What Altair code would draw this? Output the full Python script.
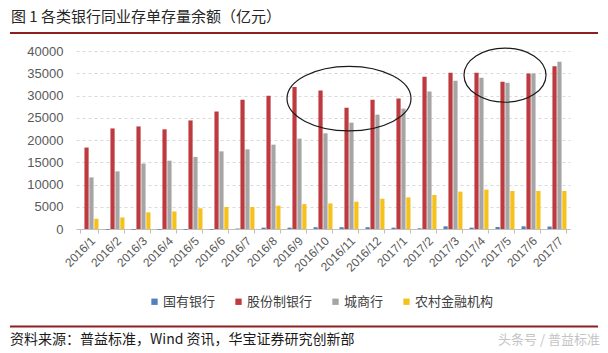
import altair as alt
import pandas as pd

months = ["2016/1", "2016/2", "2016/3", "2016/4", "2016/5", "2016/6", "2016/7",
          "2016/8", "2016/9", "2016/10", "2016/11", "2016/12", "2017/1", "2017/2",
          "2017/3", "2017/4", "2017/5", "2017/6", "2017/7"]
banks = ["国有银行", "股份制银行", "城商行", "农村金融机构"]
colors = ["#4F81BD", "#BE3A3E", "#A5A5A5", "#F5C21B"]

state_owned = [0, -150, -150, -150, -150, -150, 100, 300, 300, 400, 400, 400,
               300, 150, 600, 300, 450, 600, 550]
joint_stock = [18300, 22600, 23050, 22400, 24400, 26400, 29050, 29950, 31900,
               31100, 27250, 29050, 29300, 34200, 35100, 35100, 33100, 34950, 36550]
city_comm = [11600, 12950, 14700, 15350, 16200, 17450, 17900, 18950, 20300,
             21500, 23900, 25700, 27050, 30900, 33300, 34000, 32850, 34950, 37600]
rural = [2300, 2600, 3750, 3950, 4650, 4950, 4950, 5250, 5600, 5750, 6150,
         6800, 7100, 7650, 8400, 8850, 8550, 8550, 8550]
y_ticks = [0, 5000, 10000, 15000, 20000, 25000, 30000, 35000, 40000]

# annotation ellipses (category, value)
ell_month = ["2016/11", "2017/5"]
ell_value = [29300, 34560]

rows = []
for series, vals in zip(banks, [state_owned, joint_stock, city_comm, rural]):
    for m, v in zip(months, vals):
        rows.append({"month": m, "bank": series, "value": v})
df = pd.DataFrame(rows)

FONT = "Liberation Sans, Noto Sans CJK SC"
CJK = "Noto Sans CJK SC"

x_enc = alt.X("month:N", sort=months, title=None,
              scale=alt.Scale(paddingInner=0.27, paddingOuter=0.135),
              axis=alt.Axis(labelAngle=-45, labelFontSize=12, labelColor="#595959",
                            labelFont=FONT, domainColor="#BFBFBF", tickColor="#BFBFBF",
                            tickSize=4, tickBand="extent", labelPadding=2, grid=False))
y_enc = alt.Y("value:Q", title=None,
              scale=alt.Scale(domain=[0, 40000], nice=False),
              axis=alt.Axis(values=y_ticks, format="d",
                            labelOverlap=False, labelFontSize=13,
                            labelColor="#595959", labelFont=FONT, domain=False, ticks=False,
                            labelPadding=13, gridColor="#D9D9D9", gridDash=[3, 3]))

bars = alt.Chart(df).mark_bar().encode(
    x=x_enc,
    xOffset=alt.XOffset("bank:N", sort=banks, scale=alt.Scale(paddingInner=0.15)),
    y=y_enc,
    color=alt.Color("bank:N", sort=banks,
                    scale=alt.Scale(domain=banks, range=colors),
                    legend=alt.Legend(title=None, orient="none", legendX=72, legendY=244,
                                      direction="horizontal", symbolType="square",
                                      symbolSize=40, symbolStrokeWidth=0,
                                      labelFont=CJK, labelFontSize=13,
                                      labelColor="#404040", columnPadding=16,
                                      labelOffset=2)),
)

ell_df = pd.DataFrame({"month": ell_month, "value": ell_value})
ell1 = alt.Chart(ell_df.iloc[[0]]).mark_point(
    shape="M -1 0 A 1 0.52 0 1 0 1 0 A 1 0.52 0 1 0 -1 0",
    size=124 * 124, filled=False, stroke="#1A1A1A", strokeWidth=1.2, opacity=1
).encode(x=x_enc, y=y_enc)
ell2 = alt.Chart(ell_df.iloc[[1]]).mark_point(
    shape="M -1 0 A 1 0.66 0 1 0 1 0 A 1 0.66 0 1 0 -1 0",
    size=82 * 82, filled=False, stroke="#1A1A1A", strokeWidth=1.2, opacity=1
).encode(x=x_enc, y=y_enc)

anno = pd.DataFrame({"a": [0]})
title_txt = alt.Chart(anno).mark_text(
    text="图 1  各类银行同业存单存量余额（亿元）", align="left", baseline="middle",
    font=CJK, fontSize=15, color="#262626"
).encode(x=alt.value(-65), y=alt.value(-34))
top_line = alt.Chart(anno).mark_rule(color="#8E1F1F", strokeWidth=2).encode(
    x=alt.value(-66), x2=alt.value(522), y=alt.value(-18))
bot_line = alt.Chart(anno).mark_rule(color="#8E1F1F", strokeWidth=2).encode(
    x=alt.value(-66), x2=alt.value(522), y=alt.value(275.5))
source_txt = alt.Chart(anno).mark_text(
    text="资料来源：普益标准，Wind 资讯，华宝证券研究创新部", align="left",
    baseline="middle", font=CJK, fontSize=14, color="#1A1A1A"
).encode(x=alt.value(-66), y=alt.value(289))
mark_txt = alt.Chart(anno).mark_text(
    text="头条号 / 普益标准", align="right", baseline="middle",
    font=CJK, fontSize=13, color="#C4C4C4"
).encode(x=alt.value(524), y=alt.value(289))

chart = alt.layer(bars, ell1, ell2, title_txt, top_line, bot_line, source_txt, mark_txt).properties(
    width=494, height=178,
    autosize=alt.AutoSizeParams(type="none"),
    padding={"left": 76, "top": 51, "right": 38, "bottom": 124},
    background="white",
).configure_view(stroke=None)

chart.save("out.html", embed_options={"renderer": "svg", "actions": False})
